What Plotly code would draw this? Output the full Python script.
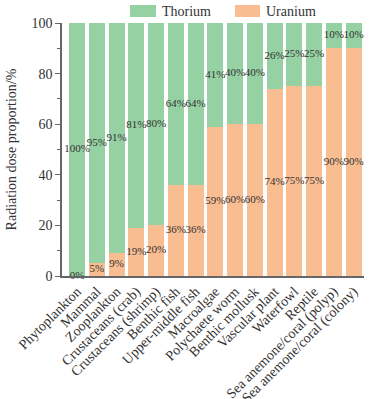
import plotly.graph_objects as go

categories = ["Phytoplankton", "Mammal", "Zooplankton", "Crustaceans (crab)",
              "Crustaceans (shrimp)", "Benthic fish", "Upper-middle fish", "Macroalgae",
              "Polychaete worm", "Benthic mollusk", "Vascular plant", "Waterfowl",
              "Reptile", "Sea anemone/coral (polyp)", "Sea anemone/coral (colony)"]
uranium = [0, 5, 9, 19, 20, 36, 36, 59, 60, 60, 74, 75, 75, 90, 90]
thorium = [100, 95, 91, 81, 80, 64, 64, 41, 40, 40, 26, 25, 25, 10, 10]

GREEN = "#95D1A2"
ORANGE = "#F9BD92"
FONT = "Liberation Serif"
TXT = "#333333"
AX = "#666666"

idx = list(range(len(categories)))

fig = go.Figure()
fig.add_trace(go.Bar(x=idx, y=uranium, marker=dict(color=ORANGE, line=dict(width=0)),
                     name="Uranium", showlegend=False, hoverinfo="skip"))
fig.add_trace(go.Bar(x=idx, y=thorium, marker=dict(color=GREEN, line=dict(width=0)),
                     name="Thorium", showlegend=False, hoverinfo="skip"))

u_mid = [u / 2 for u in uranium]
t_mid = [u + t / 2 for u, t in zip(uranium, thorium)]
fig.add_trace(go.Scatter(x=idx, y=u_mid, mode="text", text=[f"{v}%" for v in uranium],
                         textfont=dict(family=FONT, size=11, color=TXT), showlegend=False,
                         hoverinfo="skip", cliponaxis=False))
fig.add_trace(go.Scatter(x=idx, y=t_mid, mode="text", text=[f"{v}%" for v in thorium],
                         textfont=dict(family=FONT, size=11, color=TXT), showlegend=False,
                         hoverinfo="skip", cliponaxis=False))

# manual legend (pixel -> paper coords)
def px_x(x):
    return (x - 62) / 302
def px_y(y):
    return (276 - y) / 253

shapes = [
    dict(type="rect", xref="paper", yref="paper", x0=px_x(130), x1=px_x(156),
         y0=px_y(17), y1=px_y(5), fillcolor=GREEN, line=dict(width=0)),
    dict(type="rect", xref="paper", yref="paper", x0=px_x(235), x1=px_x(260),
         y0=px_y(17), y1=px_y(5), fillcolor=ORANGE, line=dict(width=0)),
]
annotations = [
    dict(text="Thorium", xref="paper", yref="paper", x=px_x(161), y=px_y(11),
         xanchor="left", yanchor="middle", showarrow=False, borderpad=0,
         font=dict(family=FONT, size=14, color=TXT)),
    dict(text="Uranium", xref="paper", yref="paper", x=px_x(265), y=px_y(11),
         xanchor="left", yanchor="middle", showarrow=False, borderpad=0,
         font=dict(family=FONT, size=14, color=TXT)),
]

fig.update_layout(
    width=369, height=399,
    margin=dict(l=62, r=5, t=23, b=123),
    barmode="stack", bargap=0.19,
    plot_bgcolor="white", paper_bgcolor="white",
    shapes=shapes, annotations=annotations,
    font=dict(family=FONT, color=TXT),
    xaxis=dict(range=[-0.76, 14.53], tickmode="array", tickvals=idx, ticktext=categories,
               tickangle=-45, showline=True, linecolor=AX, linewidth=1.5,
               ticks="", showgrid=False, zeroline=False, automargin=False,
               tickfont=dict(family=FONT, size=14, color=TXT)),
    yaxis=dict(range=[0, 100], tickvals=[0, 20, 40, 60, 80, 100], showline=True,
               linecolor=AX, linewidth=1.5, ticks="outside", ticklen=5, tickcolor=AX,
               tickwidth=1.2, showgrid=False, zeroline=False, automargin=False,
               minor=dict(tickvals=[10, 30, 50, 70, 90], ticks="outside", ticklen=3,
                          tickcolor=AX, tickwidth=1.2),
               tickfont=dict(family=FONT, size=14, color=TXT),
               title=dict(text="Radiation dose proportion/%", standoff=12,
                          font=dict(family=FONT, size=14, color=TXT))),
)

fig.write_html("out.html", config={"displayModeBar": False},
               post_script="document.body.style.margin='0';")
